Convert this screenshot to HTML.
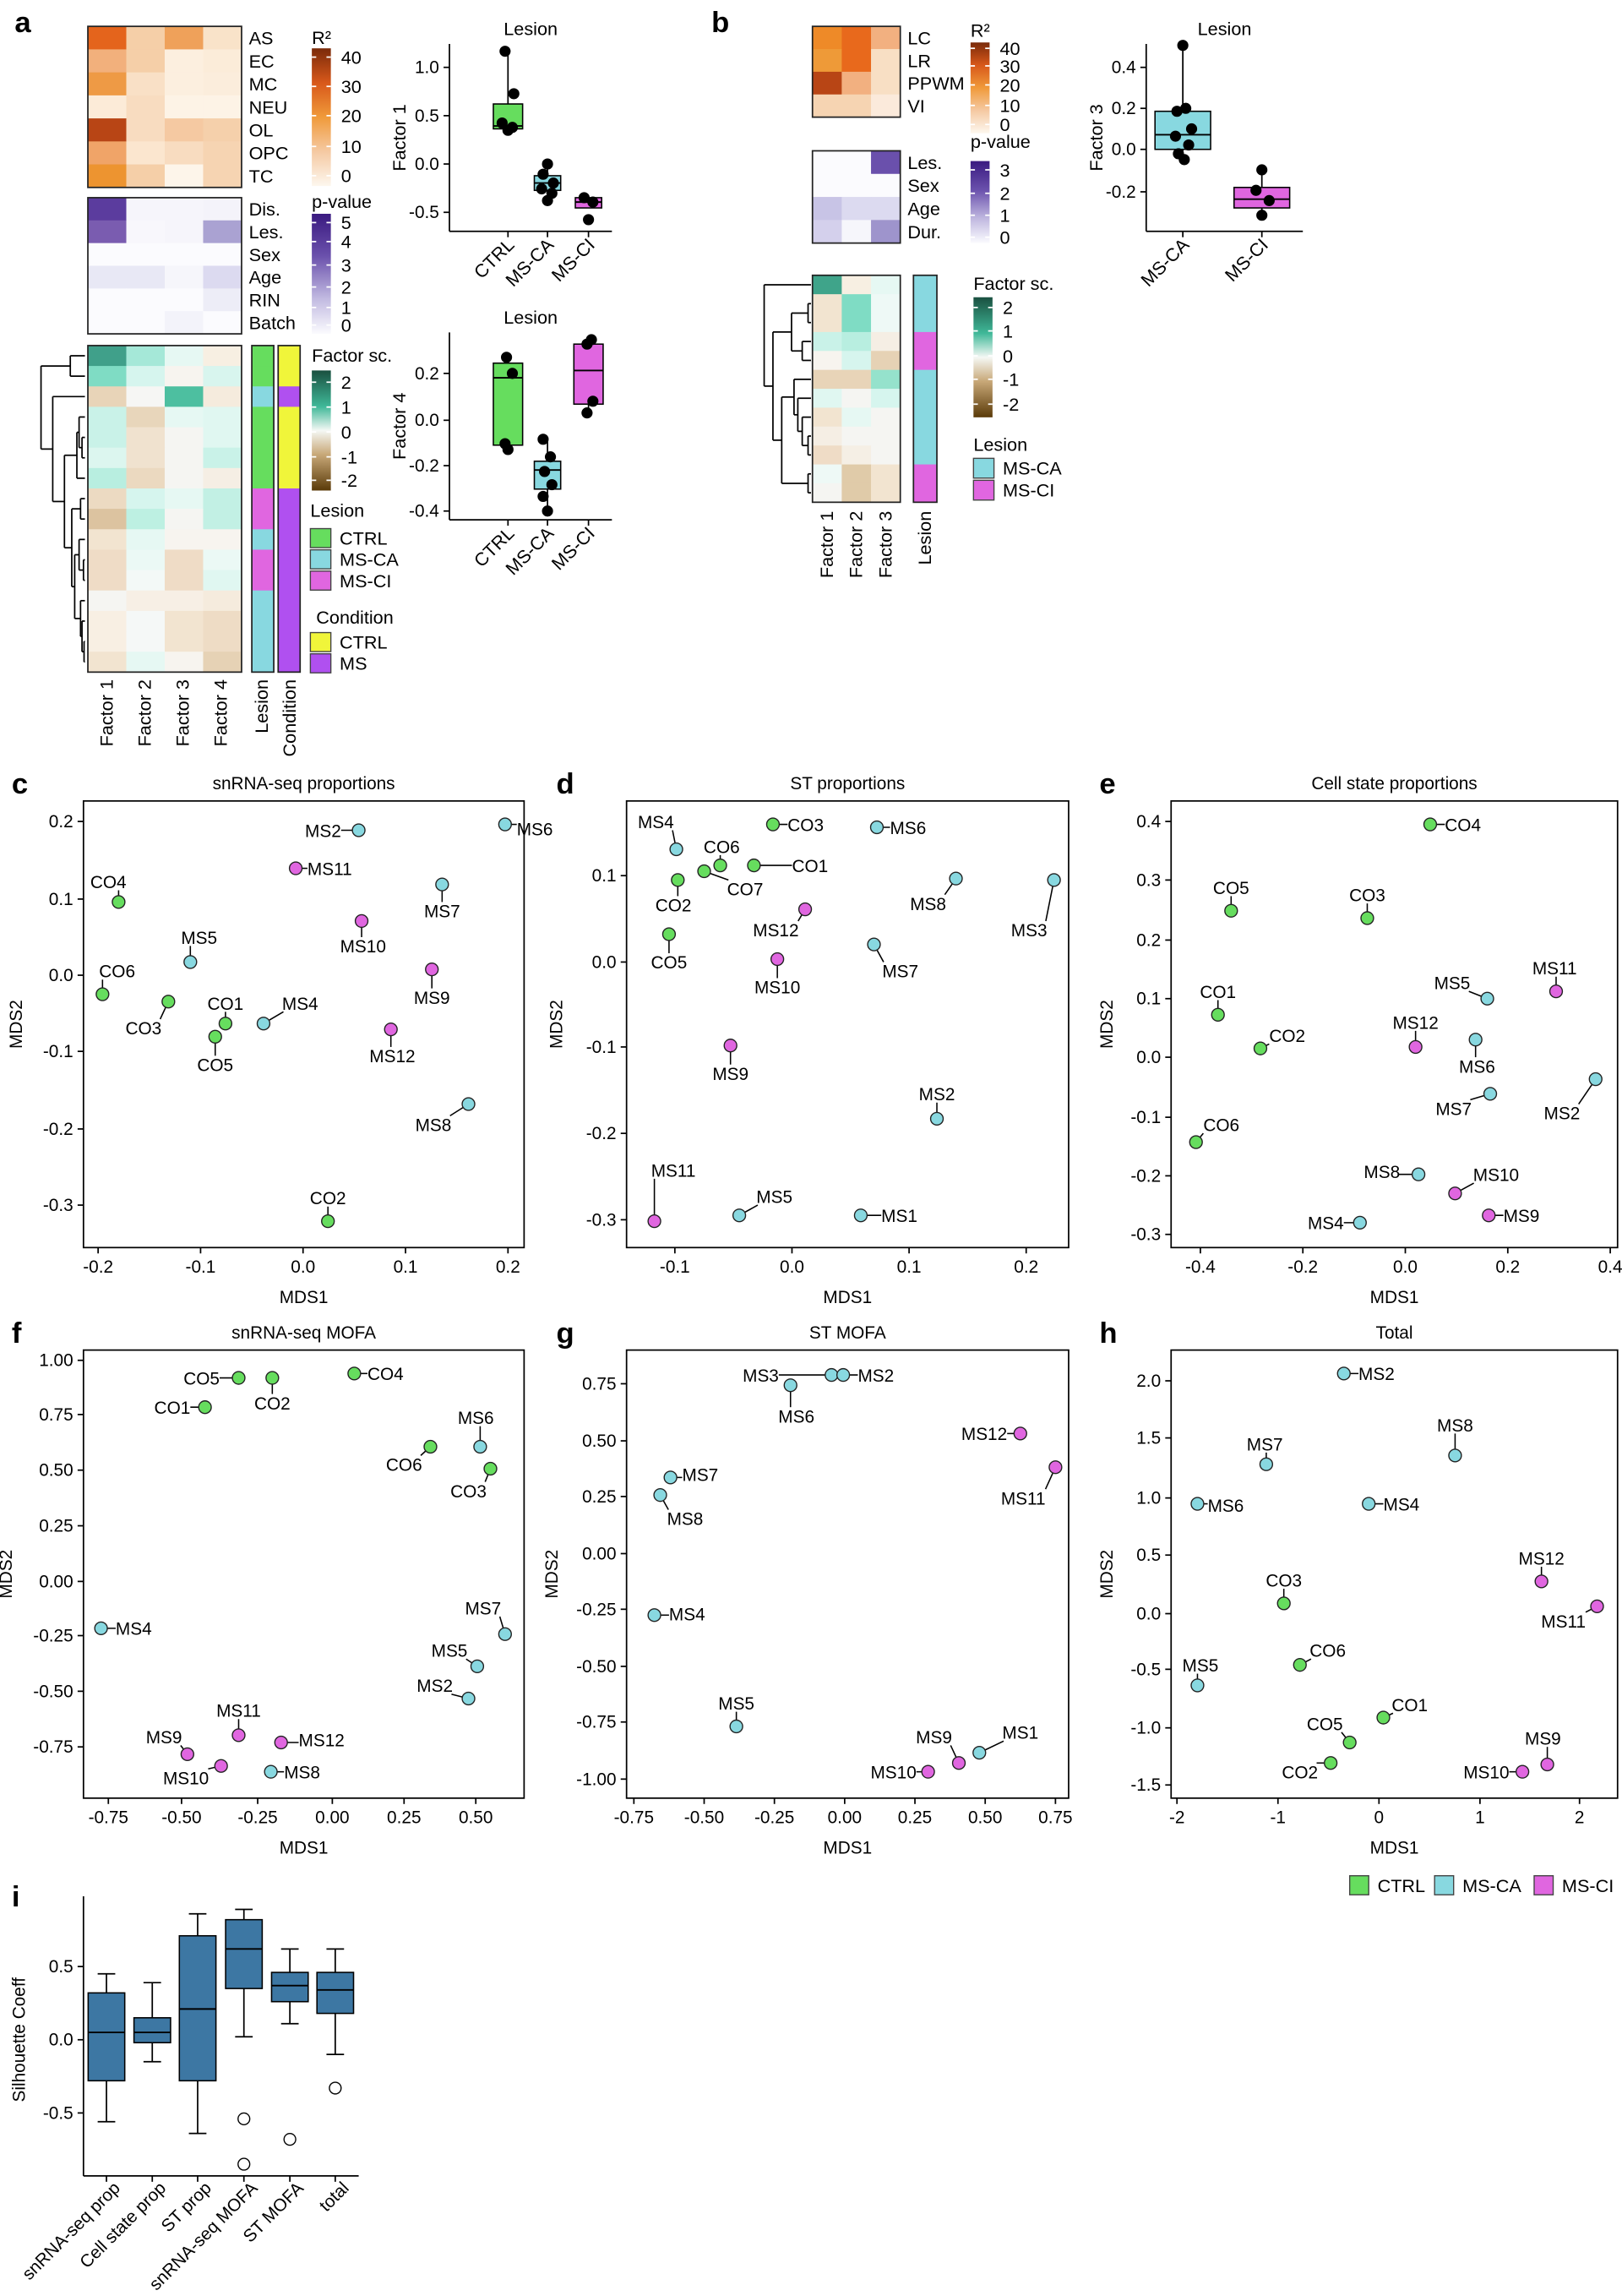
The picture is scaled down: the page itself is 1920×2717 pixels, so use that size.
<!DOCTYPE html>
<html><head><meta charset="utf-8"><style>
html,body{margin:0;padding:0;background:#fff;}
svg{display:block;font-family:"Liberation Sans",Arial,sans-serif;}
</style></head><body>
<svg id="s" width="1920" height="2717" viewBox="0 0 1108 1568" xmlns="http://www.w3.org/2000/svg">
<defs>
<linearGradient id="gR" x1="0" y1="0" x2="0" y2="1"><stop offset="0" stop-color="#7a2a0a"/><stop offset="0.25" stop-color="#d8581a"/><stop offset="0.5" stop-color="#f09a3a"/><stop offset="0.75" stop-color="#f5c9a2"/><stop offset="1" stop-color="#fdf7ee"/></linearGradient>
<linearGradient id="gP" x1="0" y1="0" x2="0" y2="1"><stop offset="0" stop-color="#3a1a80"/><stop offset="0.35" stop-color="#6a50ac"/><stop offset="0.7" stop-color="#c0b8e0"/><stop offset="1" stop-color="#fbfbfe"/></linearGradient>
<linearGradient id="gF" x1="0" y1="0" x2="0" y2="1"><stop offset="0" stop-color="#1a5040"/><stop offset="0.3" stop-color="#3fb898"/><stop offset="0.5" stop-color="#f5f8f5"/><stop offset="0.7" stop-color="#c8a878"/><stop offset="1" stop-color="#5a3a08"/></linearGradient>
</defs>
</svg>
<script>
const S=document.getElementById('s');const NS='http://www.w3.org/2000/svg';
function el(t,a,txt){const e=document.createElementNS(NS,t);for(const k in a)e.setAttribute(k,a[k]);if(txt!==undefined)e.textContent=txt;S.appendChild(e);return e;}
function R(x,y,w,h,f,st,sw){return el('rect',{x,y,width:w,height:h,fill:f||'none',stroke:st||'none','stroke-width':sw||0.8});}
function L(x1,y1,x2,y2,c,w){return el('line',{x1,y1,x2,y2,stroke:c||'#000','stroke-width':w||0.8});}
function T(x,y,s,o){o=o||{};const a={x,y,'font-size':o.fs||12,'text-anchor':o.a||'start',fill:'#000'};if(o.b)a['font-weight']='bold';if(o.r!==undefined)a.transform=`rotate(${o.r} ${x} ${y})`;return el('text',a,s);}
function C(x,y,r,f,st){return el('circle',{cx:x,cy:y,r,fill:f,stroke:st||'#000','stroke-width':0.8});}
const G='#66dd5e',CY='#88d8e0',MG='#e066e0',YE='#f0f53a',PU='#b050f0';
function heat(x,y,w,h,cols){const nr=cols.length,nc=cols[0].length,cw=w/nc,rh=h/nr;cols.forEach((row,i)=>row.forEach((c,j)=>R(x+j*cw,y+i*rh,cw+0.3,rh+0.3,c)));R(x,y,w,h,'none','#222',1);return rh;}
function labels(x,y,rh,arr,fs){arr.forEach((s,i)=>T(x,y+rh*(i+0.5)+4.5,s,{fs:fs||12.5}));}
function cbar(x,y,h,grad,title,ticks,ty){T(x,ty,title,{fs:12.5});R(x,y,13,h,`url(#${grad})`);ticks.forEach(([s,yy])=>{T(x+20,yy+4.5,s,{fs:12.5});L(x,yy,x+3,yy,'#fff',1);L(x+10,yy,x+13,yy,'#fff',1);});}
function dendro(node,ly,xr){
 if(typeof node==='number')return[ly(node),xr];
 const a=dendro(node[1],ly,xr),b=dendro(node[2],ly,xr),x=node[0];
 L(x,a[0],a[1],a[0],'#000',1);L(x,b[0],b[1],b[0],'#000',1);L(x,a[0],x,b[0],'#000',1);return[(a[0]+b[0])/2,x];}
[['a',10,22],['b',486,22],['c',8,542],['d',380,542],['e',751,542],['f',8,917],['g',380,917],['h',751,917],['i',8,1302]].forEach(([s,x,y])=>T(x,y,s,{fs:20,b:1}));

let rh=heat(60,18,105,110,[
['#e4641c','#f5cfa8','#efa15a','#f9e3c9'],['#f2b07c','#f5cfa8','#fcefdf','#fbecd9'],['#ee9a45','#f9e0c6','#fcefdf','#fbeddc'],
['#fcebd8','#f8dcc0','#fdf3e6','#fdf3e6'],['#b84515','#f8dcc0','#f5c9a2','#f5d0ab'],['#f0a468','#fbe6cf','#f8dcc0','#f6d4b2'],['#ed9430','#f5cfa8','#fdf5ea','#f6d4b2']]);
labels(170,18,rh,['AS','EC','MC','NEU','OL','OPC','TC']);
rh=heat(60,135,105,93,[
['#5b3c9e','#f6f5fb','#f6f5fb','#f4f3fa'],['#7a5cb0','#f8f7fc','#f6f5fb','#aaa2d2'],['#fbfbfe','#fbfbfe','#fbfbfe','#fbfbfe'],
['#e8e8f5','#e8e8f5','#f6f6fb','#dcdaf0'],['#fbfbfe','#fbfbfe','#fbfbfe','#ededf7'],['#fbfbfe','#fbfbfe','#f3f3fa','#fbfbfe']]);
labels(170,135,rh,['Dis.','Les.','Sex','Age','RIN','Batch']);
const FA=[['#40a08a','#a5e8d8','#e6f8f3','#f7efe2'],['#7fdcc4','#d6f5ee','#f7f4ef','#d8f5ee'],['#e8d4b8','#f6f6f4','#4dbfa0','#f5ebdd'],
['#c9f2e8','#e8d6bb','#e6f8f3','#e0f7f1'],['#c9f2e8','#f0e2cf','#f5f5f2','#e0f7f1'],['#dcf6ef','#f0e2cf','#f5f5f2','#c9f2e8'],['#b8eee0','#ebd9c0','#f5f5f2','#f5eee4'],
['#ecdac2','#d6f5ee','#e6f8f3','#c2f0e4'],['#dcc3a0','#bdf0e2','#f5f5f2','#c2f0e4'],['#f2e4d0','#e6f8f3','#f7f4ef','#f7f4ef'],['#efdcc6','#ebf9f5','#efdcc6','#ebf9f5'],
['#efdcc6','#f3f9f7','#efdcc6','#e0f7f1'],['#f5f5f2','#f7efe5','#f7efe5','#f5ebdd'],['#f8efe3','#f5f8f7','#f2e4d0','#eedcc5'],['#f8efe3','#f5f8f7','#f2e4d0','#eedcc5'],['#f2e4d0','#e6f8f3','#f7f4ef','#e6d2b5']];
rh=heat(60,236,105,223,FA);
const lesA=[G,G,CY,G,G,G,G,MG,MG,CY,MG,MG,CY,CY,CY,CY],conA=[YE,YE,PU,YE,YE,YE,YE,PU,PU,PU,PU,PU,PU,PU,PU,PU];
lesA.forEach((c,i)=>R(172,236+i*rh,15,rh+0.3,c));R(172,236,15,223,'none','#222',1);
conA.forEach((c,i)=>R(190,236+i*rh,15,rh+0.3,c));R(190,236,15,223,'none','#222',1);
dendro([28,[48,0,1],[36,2,[44,[52.5,[54,3,[56,4,5]],6],[49,[55,7,8],[51,[54,9,[57,10,11]],[55,12,[56,13,[57.4,14,15]]]]]]]],i=>236+rh*(i+0.5),58);
[['Factor 1',77],['Factor 2',103],['Factor 3',129],['Factor 4',155],['Lesion',183],['Condition',202]].forEach(([s,x])=>T(x,464,s,{fs:12.5,a:'end',r:-90}));
cbar(213,33,94,'gR','R²',[['40',39],['30',59],['20',79],['10',100],['0',120]],30);
cbar(213,146,82,'gP','p-value',[['5',152],['4',165],['3',181],['2',196],['1',210],['0',222]],142);
cbar(213,253,82,'gF','Factor sc.',[['2',261],['1',278],['0',295],['-1',312],['-2',328]],247);
T(212,353,'Lesion',{fs:12.5});[[G,'CTRL'],[CY,'MS-CA'],[MG,'MS-CI']].forEach(([c,s],i)=>{R(212,361+i*14.5,14,13,c,'#444',0.8);T(232,372+i*14.5,s,{fs:12.5});});
T(216,426,'Condition',{fs:12.5});[[YE,'CTRL'],[PU,'MS']].forEach(([c,s],i)=>{R(212,432+i*14.5,14,13,c,'#444',0.8);T(232,443+i*14.5,s,{fs:12.5});});

rh=heat(555,18,60,62,[['#ee8a28','#e8691c','#f2b080'],['#ee9a38','#e8691c','#f8dfc4'],['#b84515','#f2b080','#f8dfc4'],['#f6d4b2','#f6d4b2','#fbeadb']]);
labels(620,18,rh,['LC','LR','PPWM','VI']);
rh=heat(555,103,60,63,[['#fbfbfe','#fbfbfe','#6a50ac'],['#fbfbfe','#fbfbfe','#fbfbfe'],['#c8c4e6','#dcdaf0','#dcdaf0'],['#d4d0ec','#f6f6fb','#9e94cc']]);
labels(620,103,rh,['Les.','Sex','Age','Dur.']);
rh=heat(555,188,60,155,[['#3fa48a','#f7efe2','#e6f8f3'],['#f2e4d0','#7fdcc4','#eef9f6'],['#f2e4d0','#7fdcc4','#eef9f6'],['#c9f2e8','#b8eee0','#f5eee4'],['#f7f4ef','#d6f5ee','#e6d2b5'],
['#e8d4b8','#e8d4b8','#95e2cc'],['#e0f7f1','#f5f5f2','#d6f5ee'],['#f2e4d0','#e6f8f3','#f5f5f2'],['#f5eee4','#f5f5f2','#f5f5f2'],['#efdcc6','#f5efe5','#f5f5f2'],['#eef9f6','#e0cba9','#f2e4d0'],['#f5f5f2','#e0cba9','#f2e4d0']]);
[CY,CY,CY,MG,MG,CY,CY,CY,CY,CY,MG,MG].forEach((c,i)=>R(624,188+i*rh,16,rh+0.3,c));R(624,188,16,155,'none','#222',1);
dendro([522,0,[528,[540.7,[552,1,2],[548,3,4]],[534,[542.4,5,[545,6,[548,7,[552,8,9]]]],[552,10,11]]]],i=>188+rh*(i+0.5),554);
[['Factor 1',569],['Factor 2',589],['Factor 3',609],['Lesion',636]].forEach(([s,x])=>T(x,349,s,{fs:12.5,a:'end',r:-90}));
cbar(663,29,62,'gR','R²',[['40',33],['30',45],['20',58],['10',72],['0',85]],25);
cbar(663,110,56,'gP','p-value',[['3',116],['2',132],['1',147],['0',162]],101);
cbar(665,203,82,'gF','Factor sc.',[['2',210],['1',226],['0',243],['-1',259],['-2',276]],198);
T(665,308,'Lesion',{fs:12.5});[[CY,'MS-CA'],[MG,'MS-CI']].forEach(([c,s],i)=>{R(665,313+i*15,14,13.5,c,'#444',0.8);T(685,324+i*15,s,{fs:12.5});});

function bplot(x0,y0,x1,y1,title,ytitle,yt,cats,boxes){
 T((x0+x1)/2,y0-6,title,{fs:12.5,a:'middle'});L(x0,y0,x0,y1,'#000',1);L(x0,y1,x1,y1,'#000',1);
 yt.forEach(([s,y])=>{L(x0-4,y,x0,y,'#000',1);T(x0-7,y+4,s,{fs:12,a:'end'});});
 T(x0-30,(y0+y1)/2,ytitle,{fs:12.5,a:'middle',r:-90});
 cats.forEach(([s,x])=>{L(x,y1,x,y1+4,'#000',1);T(x+5,y1+10,s,{fs:12.5,a:'end',r:-45});});
 boxes.forEach(b=>{const[x,w,wt,q3,md,q1,wb,col,pts]=b;L(x,wt,x,q3,'#000',1);L(x,q1,x,wb,'#000',1);R(x-w/2,q3,w,q1-q3,col,'#000',0.9);L(x-w/2,md,x+w/2,md,'#000',1.1);pts.forEach(p=>C(x+p[0],p[1],3.4,'#000','#000'));});}
bplot(307,30,418,158,'Lesion','Factor 1',[['1.0',46],['0.5',79],['0.0',112],['-0.5',145]],[['CTRL',347],['MS-CA',374],['MS-CI',402]],
[[347,20,35,71,86,88,89,G,[[-2,35],[4,64],[-4,84],[3,87],[0,89]]],[374,18,112,120,125,130,137,CY,[[0,112],[-3,119],[4,125],[-4,129],[3,132],[0,137]]],[402,18,135,135,138,142,142,MG,[[-3,135],[3,138],[0,150]]]]);
bplot(307,227,418,355,'Lesion','Factor 4',[['0.2',255],['0.0',287],['-0.2',318],['-0.4',349]],[['CTRL',347],['MS-CA',374],['MS-CI',402]],
[[347,20,244,248,258,304,307,G,[[-1,244],[3,255],[-2,303],[0,307]]],[374,18,300,315,321,334,349,CY,[[-3,300],[2,312],[-2,322],[3,331],[-3,339],[0,349]]],[402,20,232,235,253,276,282,MG,[[2,232],[-1,235],[3,274],[-1,282]]]]);
bplot(783,30,890,158,'Lesion','Factor 3',[['0.4',46],['0.2',74],['0.0',102],['-0.2',131]],[['MS-CA',808],['MS-CI',862]],
[[808,38,31,76,92,102,109,CY,[[0,31],[2,74],[-4,76],[6,88],[-5,93],[4,99],[-3,105],[1,109]]],[862,38,116,128,136,142,147,MG,[[0,116],[-4,130],[5,137],[0,147]]]]);

const CI=['MS9','MS10','MS11','MS12'];
function colOf(s){return s.startsWith('CO')?G:(CI.includes(s)?MG:CY);}
function scatter(x0,y0,x1,y1,title,xt,yt,pts,mx){
 T((x0+x1)/2,y0-8,title,{fs:12,a:'middle'});R(x0,y0,x1-x0,y1-y0,'none','#000',1);
 xt.forEach(([s,x])=>{L(x,y1,x,y1+4,'#000',1);T(x,y1+17,s,{fs:12,a:'middle'});});
 yt.forEach(([s,y])=>{L(x0-4,y,x0,y,'#000',1);T(x0-7,y+4,s,{fs:12,a:'end'});});
 T((x0+x1)/2,y1+38,'MDS1',{fs:12,a:'middle'});T(mx,(y0+y1)/2,'MDS2',{fs:12,a:'middle',r:-90});
 pts.forEach(([px,py,s,an,lx,ly])=>{const w=s.length*7.6,bx0=an==='start'?lx:an==='end'?lx-w:lx-w/2,bx1=bx0+w,by0=ly-6,by1=ly+6;
  const cx=Math.max(bx0,Math.min(px,bx1)),cy=Math.max(by0,Math.min(py,by1));if(Math.hypot(cx-px,cy-py)>3)L(px,py,cx,cy,'#000',0.9);
  T(lx,ly+4.5,s,{fs:12,a:an==='start'?'start':an==='end'?'end':'middle'});});
 pts.forEach(([px,py,s])=>C(px,py,4.3,colOf(s),'#222'));}
const m='middle',st='start',en='end';
scatter(57,547,358,852,'snRNA-seq proportions',[['-0.2',67],['-0.1',137],['0.0',207],['0.1',277],['0.2',347]],[['0.2',561],['0.1',614],['0.0',666],['-0.1',718],['-0.2',771],['-0.3',823]],[
[345,563,'MS6',st,353,566],[245,567,'MS2',en,233,567],[202,593,'MS11',st,210,593],[302,604,'MS7',m,302,622],[81,616,'CO4',m,74,602],[247,629,'MS10',m,248,646],
[130,657,'MS5',m,136,640],[295,662,'MS9',m,295,681],[70,679,'CO6',m,80,663],[115,684,'CO3',m,98,702],[154,699,'CO1',m,154,685],[180,699,'MS4',m,205,685],
[147,708,'CO5',m,147,727],[267,703,'MS12',m,268,721],[320,754,'MS8',m,296,768],[224,834,'CO2',m,224,818]],15);
scatter(428,547,730,852,'ST proportions',[['-0.1',461],['0.0',541],['0.1',621],['0.2',701]],[['0.1',598],['0.0',657],['-0.1',715],['-0.2',774],['-0.3',833]],[
[462,580,'MS4',m,448,561],[528,563,'CO3',st,538,563],[599,565,'MS6',st,608,565],[492,591,'CO6',m,493,578],[515,591,'CO1',st,541,591],[481,595,'CO7',m,509,607],
[463,601,'CO2',m,460,618],[653,600,'MS8',m,634,617],[720,601,'MS3',m,703,635],[550,621,'MS12',m,530,635],[457,638,'CO5',m,457,657],[597,645,'MS7',m,615,663],
[531,655,'MS10',m,531,674],[499,714,'MS9',m,499,733],[640,764,'MS2',m,640,747],[447,834,'MS11',m,460,799],[505,830,'MS5',m,529,817],[588,830,'MS1',st,602,830]],384);
scatter(800,547,1105,852,'Cell state proportions',[['-0.4',820],['-0.2',890],['0.0',960],['0.2',1030],['0.4',1100]],[['0.4',561],['0.3',601],['0.2',642],['0.1',682],['0.0',722],['-0.1',763],['-0.2',803],['-0.3',843]],[
[977,563,'CO4',st,987,563],[841,622,'CO5',m,841,606],[934,627,'CO3',m,934,611],[1016,682,'MS5',m,992,671],[1063,677,'MS11',m,1062,661],[832,693,'CO1',m,832,677],
[967,715,'MS12',m,967,698],[861,716,'CO2',st,867,707],[1008,710,'MS6',m,1009,728],[1018,747,'MS7',m,993,757],[1090,737,'MS2',m,1067,760],[817,780,'CO6',st,822,768],
[969,802,'MS8',m,944,800],[994,815,'MS10',m,1022,802],[1017,830,'MS9',st,1027,830],[929,835,'MS4',en,918,835]],760);
scatter(57,922,358,1228,'snRNA-seq MOFA',[['-0.75',74],['-0.50',124],['-0.25',176],['0.00',227],['0.25',276],['0.50',325]],[['1.00',929],['0.75',966],['0.50',1004],['0.25',1042],['0.00',1080],['-0.25',1117],['-0.50',1155],['-0.75',1193]],[
[163,941,'CO5',en,150,941],[186,941,'CO2',m,186,958],[242,938,'CO4',st,251,938],[140,961,'CO1',en,130,961],[328,988,'MS6',m,325,968],[294,988,'CO6',m,276,1000],
[335,1003,'CO3',m,320,1018],[69,1112,'MS4',st,79,1112],[345,1116,'MS7',m,330,1098],[326,1138,'MS5',m,307,1127],[320,1160,'MS2',m,297,1151],[163,1185,'MS11',m,163,1168],
[192,1190,'MS12',st,204,1188],[128,1198,'MS9',m,112,1186],[151,1206,'MS10',m,127,1214],[185,1210,'MS8',st,194,1210]],8);
scatter(428,922,730,1228,'ST MOFA',[['-0.75',433],['-0.50',481],['-0.25',529],['0.00',577],['0.25',625],['0.50',673],['0.75',721]],[['0.75',945],['0.50',984],['0.25',1022],['0.00',1061],['-0.25',1099],['-0.50',1138],['-0.75',1176],['-1.00',1215]],[
[568,939,'MS3',en,532,939],[576,939,'MS2',st,586,939],[540,946,'MS6',m,544,967],[697,979,'MS12',en,688,979],[721,1002,'MS11',m,699,1023],[458,1009,'MS7',st,466,1007],
[451,1021,'MS8',m,468,1037],[447,1103,'MS4',st,457,1102],[503,1179,'MS5',m,503,1163],[669,1197,'MS1',m,697,1183],[655,1204,'MS9',m,638,1186],[634,1210,'MS10',en,626,1210]],381);
scatter(800,922,1105,1228,'Total',[['-2',804],['-1',873],['0',942],['1',1011],['2',1079]],[['2.0',943],['1.5',982],['1.0',1023],['0.5',1062],['0.0',1102],['-0.5',1140],['-1.0',1180],['-1.5',1219]],[
[918,938,'MS2',st,928,938],[994,994,'MS8',m,994,973],[865,1000,'MS7',m,864,986],[818,1027,'MS6',st,825,1028],[935,1027,'MS4',st,945,1027],[1053,1080,'MS12',m,1053,1064],
[1091,1097,'MS11',m,1068,1107],[877,1095,'CO3',m,877,1079],[888,1137,'CO6',m,907,1127],[818,1151,'MS5',m,820,1137],[945,1173,'CO1',m,963,1164],[922,1190,'CO5',m,905,1177],
[1057,1205,'MS9',m,1054,1187],[909,1204,'CO2',m,888,1210],[1040,1210,'MS10',en,1031,1210]],760);
[[G,'CTRL',922],[CY,'MS-CA',980],[MG,'MS-CI',1048]].forEach(([c,s,x])=>{R(x,1281,13,13,c,'#444',0.8);T(x+19,1292,s,{fs:12.5});});

{const x0=57,y0=1295,x1=245,y1=1486,f=v=>1393-v*100,bc='#3d77a3';
L(x0,y0,x0,y1,'#000',1);L(x0,y1,x1,y1,'#000',1);
[['0.5',0.5],['0.0',0],['-0.5',-0.5]].forEach(([s,v])=>{L(x0-4,f(v),x0,f(v),'#000',1);T(x0-7,f(v)+4,s,{fs:12,a:'end'});});
T(17,1393,'Silhouette Coeff',{fs:12,a:'middle',r:-90});
const B=[[72.7,0.45,0.32,0.05,-0.28,-0.56,[],'snRNA-seq prop'],[104,0.39,0.15,0.05,-0.02,-0.15,[],'Cell state prop'],[135,0.86,0.71,0.21,-0.28,-0.64,[],'ST prop'],
[166.6,0.89,0.82,0.62,0.35,0.02,[-0.54,-0.85],'snRNA-seq MOFA'],[198,0.62,0.46,0.37,0.26,0.11,[-0.68],'ST MOFA'],[229,0.62,0.46,0.34,0.18,-0.1,[-0.33],'total']];
B.forEach(([x,wt,q3,md,q1,wb,out,s])=>{L(x,f(wt),x,f(q3),'#000',1);L(x,f(q1),x,f(wb),'#000',1);L(x-6,f(wt),x+6,f(wt),'#000',1);L(x-6,f(wb),x+6,f(wb),'#000',1);
 R(x-12.5,f(q3),25,f(q1)-f(q3),bc,'#000',0.9);L(x-12.5,f(md),x+12.5,f(md),'#000',1.1);out.forEach(o=>C(x,f(o),4,'none','#000'));
 L(x,y1,x,y1+4,'#000',1);T(x+10,y1+9,s,{fs:12,a:'end',r:-45});});}
</script>
</body></html>
